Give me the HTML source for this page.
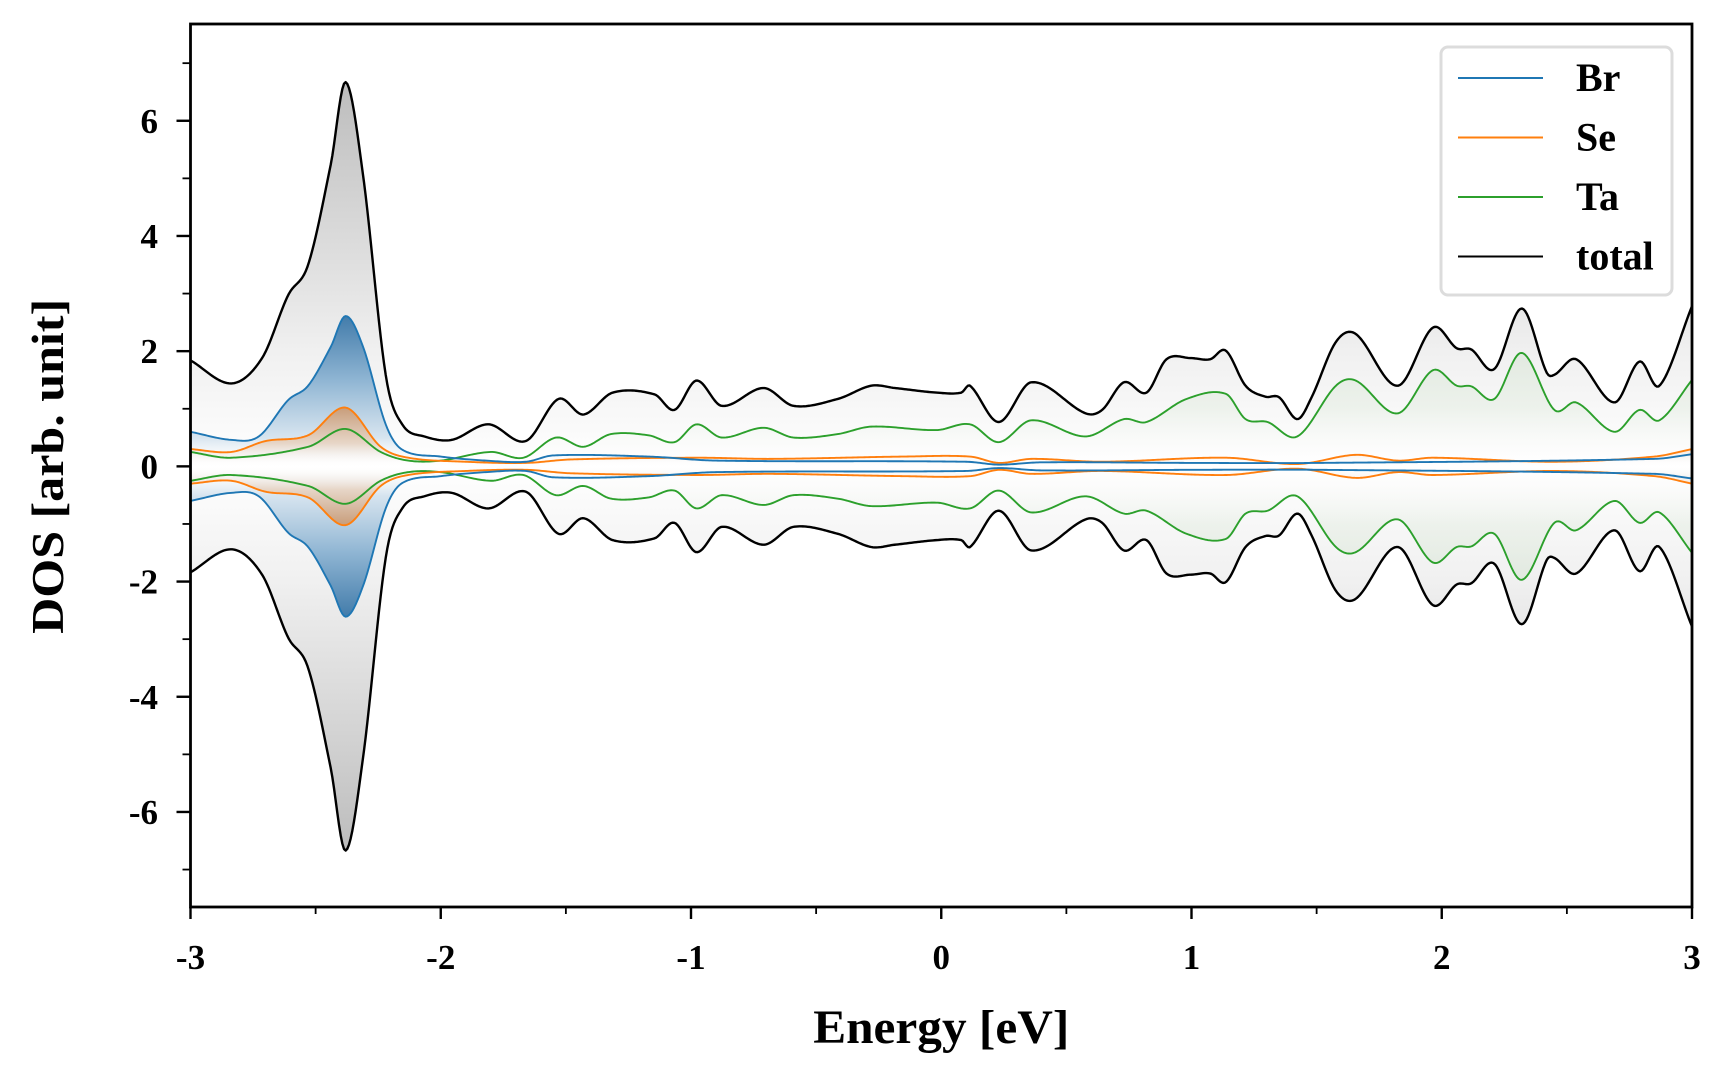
<!DOCTYPE html>
<html><head><meta charset="utf-8"><style>
html,body{margin:0;padding:0;background:#fff;}
svg{display:block;}
text{font-family:"Liberation Serif",serif;font-weight:bold;fill:#000;}
</style></head><body>
<svg id="chart" width="1728" height="1080" viewBox="0 0 1728 1080" xmlns="http://www.w3.org/2000/svg">
<defs></defs>
<g id="fills"></g>
<g id="lines"></g>
<g id="axes"></g>
<g id="legend"></g>
</svg>
<script>
// ---- data (upper half; lower half mirrored) ----
const totalE = [-3,-2.837,-2.714,-2.61,-2.53,-2.44,-2.38,-2.31,-2.22,-2.154,-2.066,-1.956,-1.81,-1.66,-1.53,-1.43,-1.313,-1.146,-1.066,-0.978,-0.877,-0.71,-0.59,-0.414,-0.28,-0.185,-0.018,0.08,0.115,0.23,0.36,0.577,0.643,0.73,0.82,0.9,0.996,1.075,1.137,1.216,1.295,1.35,1.423,1.48,1.577,1.656,1.824,1.965,2.06,2.118,2.21,2.32,2.419,2.45,2.537,2.69,2.79,2.87,3.0];
const totalV = [1.84,1.44,1.88,2.97,3.5,5.23,6.67,5.04,1.59,0.73,0.52,0.46,0.73,0.44,1.17,0.9,1.28,1.25,0.98,1.49,1.05,1.36,1.05,1.17,1.4,1.36,1.28,1.28,1.4,0.77,1.46,0.92,0.98,1.46,1.28,1.86,1.88,1.86,2.01,1.4,1.21,1.2,0.82,1.2,2.16,2.3,1.4,2.41,2.05,2.03,1.69,2.74,1.63,1.59,1.86,1.11,1.82,1.4,2.78];
const taE = [-3,-2.837,-2.53,-2.38,-2.24,-2.13,-2.0,-1.8,-1.67,-1.54,-1.43,-1.32,-1.17,-1.066,-0.978,-0.877,-0.71,-0.59,-0.414,-0.28,-0.018,0.115,0.23,0.36,0.577,0.73,0.82,0.98,1.137,1.216,1.304,1.423,1.577,1.656,1.824,1.965,2.06,2.118,2.21,2.32,2.45,2.537,2.69,2.79,2.87,3.0];
const taV = [0.25,0.15,0.34,0.65,0.25,0.1,0.1,0.25,0.15,0.5,0.34,0.56,0.54,0.42,0.73,0.5,0.67,0.5,0.56,0.69,0.63,0.73,0.42,0.8,0.52,0.82,0.77,1.17,1.26,0.82,0.77,0.52,1.4,1.49,0.92,1.67,1.4,1.39,1.17,1.97,0.98,1.11,0.6,0.98,0.8,1.5];
const brE = [-3,-2.837,-2.727,-2.61,-2.53,-2.44,-2.38,-2.31,-2.22,-2.154,-2.0,-1.82,-1.66,-1.55,-1.17,-0.9,0.1,0.23,0.4,1.0,1.51,2.85,3.0];
const brV = [0.6,0.46,0.52,1.15,1.4,2.07,2.61,2.07,0.73,0.29,0.17,0.1,0.08,0.19,0.17,0.1,0.08,0.03,0.07,0.06,0.06,0.13,0.21];
const seE = [-3,-2.837,-2.7,-2.53,-2.38,-2.24,-2.13,-1.9,-1.66,-1.48,-0.978,-0.68,-0.15,0.115,0.23,0.36,0.64,1.137,1.423,1.656,1.824,1.965,2.45,2.85,3.0];
const seV = [0.3,0.25,0.44,0.54,1.02,0.34,0.15,0.08,0.06,0.12,0.15,0.13,0.17,0.17,0.06,0.13,0.08,0.15,0.04,0.2,0.1,0.15,0.08,0.17,0.3];
const xTicks = [-3,-2,-1,0,1,2,3];
const xTickLabels = ["-3","-2","-1","0","1","2","3"];
const yTicks = [-6,-4,-2,0,2,4,6];
const yTickLabels = ["-6","-4","-2","0","2","4","6"];

// ---- axis functions ----
const L=190.5,R=1692,T=24,B=907, xMin=-3,xMax=3,yMin=-7.65,yMax=7.68;
const X=e=>L+(e-xMin)/(xMax-xMin)*(R-L);
const Y=v=>B-(v-yMin)/(yMax-yMin)*(B-T);
const NS="http://www.w3.org/2000/svg";
const svg=document.getElementById('chart');
function mk(tag,attrs,parent){const el=document.createElementNS(NS,tag);for(const k in attrs)el.setAttribute(k,attrs[k]);parent.appendChild(el);return el;}

function interp(xs,ys,n){
  const m=xs.length,d=[];
  for(let i=0;i<m;i++){
    if(i===0)d.push((ys[1]-ys[0])/(xs[1]-xs[0]));
    else if(i===m-1)d.push((ys[m-1]-ys[m-2])/(xs[m-1]-xs[m-2]));
    else d.push((ys[i+1]-ys[i-1])/(xs[i+1]-xs[i-1]));
  }
  const out=[];
  for(let k=0;k<=n;k++){
    const x=xs[0]+(xs[m-1]-xs[0])*k/n;let i=0;while(i<m-2&&x>xs[i+1])i++;
    const h=xs[i+1]-xs[i],t=(x-xs[i])/h,t2=t*t,t3=t2*t;
    let y=(2*t3-3*t2+1)*ys[i]+(t3-2*t2+t)*h*d[i]+(-2*t3+3*t2)*ys[i+1]+(t3-t2)*h*d[i+1];
    if(y<0.01)y=0.01;
    out.push([x,y]);
  }
  return out;
}
function pathOf(pts,sign){return pts.map((p,i)=>(i?'L':'M')+X(p[0]).toFixed(2)+','+Y(sign*p[1]).toFixed(2)).join('');}
const defs=svg.querySelector('defs');
function grad(id,stops){
  const g=mk('linearGradient',{id:id,gradientUnits:'userSpaceOnUse',x1:0,y1:Y(7),x2:0,y2:Y(-7)},defs);
  stops.forEach(s=>mk('stop',{offset:s[0],'stop-color':s[1],'stop-opacity':s[2]},g));
}
function sym(list){
  const st=[];const sorted=list.slice().sort((a,b)=>b[0]-a[0]);
  sorted.forEach(s=>st.push([((7-s[0])/14).toFixed(4),s[1],s[2]]));
  sorted.slice().reverse().forEach(s=>{if(s[0]>0)st.push([((7+s[0])/14).toFixed(4),s[1],s[2]]);});
  return st;
}
grad('gTot',sym([[0,'#ffffff',1],[2,'#f0f0f0',1],[4,'#dadada',1],[6.7,'#bcbcbc',1]]));
grad('gBr',sym([[0,'#ffffff',0],[0.5,'#d3e2ee',0.9],[1.5,'#8fb5d3',1],[2.7,'#3c77a7',1]]));
grad('gTa',sym([[0,'#ffffff',0],[1,'#e6eee4',0.6],[2,'#dbe6d9',0.7]]));
grad('gSe',sym([[0,'#ffffff',0],[0.4,'#e7d3c2',0.9],[1.05,'#c79a76',1]]));

const series=[
 {name:'total',E:totalE,V:totalV,color:'#000000',fill:'url(#gTot)'},
 {name:'br',E:brE,V:brV,color:'#1f77b4',fill:'url(#gBr)'},
 {name:'ta',E:taE,V:taV,color:'#2ca02c',fill:'url(#gTa)'},
 {name:'se',E:seE,V:seV,color:'#ff7f0e',fill:'url(#gSe)'}
];
const fills=document.getElementById('fills'),lines=document.getElementById('lines');
series.forEach(s=>{
  const pts=interp(s.E,s.V,900);
  const up=pathOf(pts,1);
  const down=pts.slice().reverse().map(p=>'L'+X(p[0]).toFixed(2)+','+Y(-p[1]).toFixed(2)).join('');
  const f=mk('path',{d:up+down+'Z',fill:s.fill,stroke:'none'},fills);
  
  
});
['ta','se','br','total'].forEach(n=>{
  const s=series.find(q=>q.name===n);
  const pts=interp(s.E,s.V,900);
  const w=n==='total'?2.4:1.9;
  const a=mk('path',{d:pathOf(pts,1),fill:'none',stroke:s.color,'stroke-width':w,'stroke-linejoin':'round'},lines);
  
  
  const b=mk('path',{d:pathOf(pts,-1),fill:'none',stroke:s.color,'stroke-width':w,'stroke-linejoin':'round'},lines);
  
  
});

// axes
const ax=document.getElementById('axes');
const frame=mk('rect',{x:L,y:T,width:R-L,height:B-T,fill:'none',stroke:'#000','stroke-width':2.8},ax);


xTicks.forEach((t,i)=>{
  const tk=mk('line',{x1:X(t),x2:X(t),y1:B,y2:B+12,stroke:'#000','stroke-width':2.4},ax);
  
  
  const lb=mk('text',{x:X(t),y:B+62,'text-anchor':'middle','font-size':35},ax);lb.textContent=xTickLabels[i];
  
  
  if(i<xTicks.length-1){const m=mk('line',{x1:X(t+0.5),x2:X(t+0.5),y1:B,y2:B+7,stroke:'#000','stroke-width':1.8},ax);
  
  }
});
yTicks.forEach((t,i)=>{
  const tk=mk('line',{x1:L-14,x2:L,y1:Y(t),y2:Y(t),stroke:'#000','stroke-width':2.4},ax);
  
  
  const lb=mk('text',{x:158,y:Y(t)+12,'text-anchor':'end','font-size':35},ax);lb.textContent=yTickLabels[i];
  
  
});
[-7,-5,-3,-1,1,3,5,7].forEach(t=>{
  const m=mk('line',{x1:L-8,x2:L,y1:Y(t),y2:Y(t),stroke:'#000','stroke-width':1.8},ax);
  
  
});
const xt=mk('text',{x:(L+R)/2,y:1043,'text-anchor':'middle','font-size':48,textLength:256,lengthAdjust:'spacingAndGlyphs'},ax);xt.textContent='Energy [eV]';


const yt=mk('text',{x:0,y:0,'text-anchor':'middle','font-size':46,textLength:335,lengthAdjust:'spacingAndGlyphs',transform:'translate(63,'+Y(0)+') rotate(-90)'},ax);yt.textContent='DOS [arb. unit]';



// legend
const lg=document.getElementById('legend');
const lbox=mk('rect',{x:1441,y:47,width:231,height:248,rx:7,fill:'#ffffff','fill-opacity':0.85,stroke:'#dcdcdc','stroke-width':3},lg);


const legNames=['Br','Se','Ta','total'],legColors=['#1f77b4','#ff7f0e','#2ca02c','#000000'];
legNames.forEach((n,i)=>{
  const y=78+i*59.5;
  const ln=mk('line',{x1:1458,x2:1543,y1:y,y2:y,stroke:legColors[i],'stroke-width':2},lg);
  
  
  const tx=mk('text',{x:1576,y:y+13,'font-size':40},lg);tx.textContent=n;
  
  
});
</script>
</body></html>
